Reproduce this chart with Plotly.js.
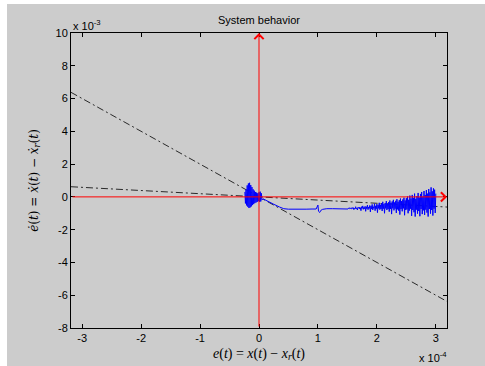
<!DOCTYPE html>
<html>
<head>
<meta charset="utf-8">
<script src="https://cdn.plot.ly/plotly-3.0.1.min.js"></script>
<style>html,body{margin:0;padding:0;background:#fff;}#chart{width:485px;height:366px;}</style>
</head>
<body>
<div id="chart"></div>
<script>
// Units: x in 1e-4, y in 1e-3 (as shown on the axes)
const xTickVals = [-3, -2, -1, 0, 1, 2, 3];
const xTickText = ["-3", "-2", "-1", "0", "1", "2", "3"];
const yTickVals = [-8, -6, -4, -2, 0, 2, 4, 6, 8, 10];
const yTickText = ["-8", "-6", "-4", "-2", "0", "2", "4", "6", "8", "10"];

// dash-dot reference lines (end points at the plot edges)
const refX = [-3.19, 3.19];
const refSteepY = [6.38, -6.38];
const refFlatY = [0.62, -0.62];

// red coordinate axes with arrows
const redAxisX = [-3.19, 3.19];
const redAxisY = [-8, 10];

// trajectory: chattering cluster near origin
const clusterX = [-0.24,-0.23,-0.22,-0.21,-0.20,-0.19,-0.18,-0.17,-0.16,-0.15,-0.14,-0.13,-0.12,-0.11,-0.10,-0.09,-0.08,-0.07,-0.06,-0.05,-0.04,-0.03,-0.02,-0.01,0.00,0.01,0.02,0.03,0.04,0.05];
const clusterY = [0.30,-0.40,0.45,-0.52,0.70,-0.60,0.82,-0.68,0.86,-0.64,0.72,-0.58,0.60,-0.50,0.46,-0.44,0.38,-0.38,0.30,-0.34,0.26,-0.30,0.22,-0.26,0.28,-0.30,0.32,-0.28,0.22,-0.18];

// trajectory: smooth drift
const driftX = [0.07,0.15,0.25,0.35,0.42,0.50,0.60,0.70,0.80,0.90,0.97,1.00,1.01,1.03,1.05,1.08,1.15,1.25,1.35,1.45];
const driftY = [-0.12,-0.28,-0.45,-0.62,-0.72,-0.75,-0.76,-0.76,-0.75,-0.74,-0.74,-0.50,-0.88,-0.95,-0.82,-0.76,-0.72,-0.72,-0.73,-0.71];

// trajectory: growing chattering
const noisyX = [
1.50,1.51,1.52,1.53,1.54,1.55,1.56,1.57,1.58,1.59,
1.60,1.61,1.62,1.63,1.64,1.65,1.66,1.67,1.68,1.69,
1.70,1.71,1.72,1.73,1.74,1.75,1.76,1.77,1.78,1.79,
1.80,1.81,1.82,1.83,1.84,1.85,1.86,1.87,1.88,1.89,
1.90,1.91,1.92,1.93,1.94,1.95,1.96,1.97,1.98,1.99,
2.00,2.01,2.02,2.03,2.04,2.05,2.06,2.07,2.08,2.09,
2.10,2.11,2.12,2.13,2.14,2.15,2.16,2.17,2.18,2.19,
2.20,2.21,2.22,2.23,2.24,2.25,2.26,2.27,2.28,2.29,
2.30,2.31,2.32,2.33,2.34,2.35,2.36,2.37,2.38,2.39,
2.40,2.41,2.42,2.43,2.44,2.45,2.46,2.47,2.48,2.49,
2.50,2.51,2.52,2.53,2.54,2.55,2.56,2.57,2.58,2.59,
2.60,2.61,2.62,2.63,2.64,2.65,2.66,2.67,2.68,2.69,
2.70,2.71,2.72,2.73,2.74,2.75,2.76,2.77,2.78,2.79,
2.80,2.81,2.82,2.83,2.84,2.85,2.86,2.87,2.88,2.89,
2.90,2.91,2.92,2.93,2.94,2.95,2.96,2.97,2.98,2.99,
3.00];
const noisyY = [
-0.70,-0.74,-0.69,-0.72,-0.66,-0.74,-0.70,-0.73,-0.65,-0.71,
-0.66,-0.78,-0.70,-0.74,-0.60,-0.72,-0.68,-0.80,-0.64,-0.69,
-0.62,-0.74,-0.66,-0.84,-0.60,-0.70,-0.55,-0.76,-0.64,-0.72,
-0.58,-0.88,-0.60,-0.72,-0.50,-0.78,-0.62,-0.70,-0.52,-0.92,
-0.56,-0.74,-0.46,-0.80,-0.60,-0.70,-0.42,-0.84,-0.55,-0.72,
-0.44,-0.96,-0.50,-0.70,-0.36,-0.78,-0.48,-0.74,-0.40,-0.86,
-0.30,-0.72,-0.44,-1.00,-0.38,-0.70,-0.26,-0.80,-0.42,-0.74,
-0.32,-0.90,-0.22,-0.74,-0.36,-1.05,-0.28,-0.70,-0.18,-0.82,
-0.34,-0.72,-0.24,-0.98,-0.14,-0.76,-0.30,-0.84,-0.20,-1.08,
-0.10,-0.74,-0.26,-0.88,-0.16,-0.70,-0.05,-1.12,-0.22,-0.80,
-0.08,-0.76,0.02,-1.00,-0.18,-0.84,0.08,-0.72,-0.10,-1.16,
0.12,-0.80,-0.06,-0.94,0.20,-1.20,-0.12,-0.78,0.05,-1.02,
0.24,-0.86,-0.04,-1.18,0.18,-0.74,0.30,-1.05,0.02,-0.82,
0.36,-1.10,0.12,-0.78,0.42,-0.96,0.20,-1.20,0.48,-0.74,
0.28,-1.02,0.58,-0.80,0.34,-1.14,0.52,-0.72,0.44,-0.98,
0.20];

const trajX = clusterX.concat(driftX, noisyX);
const trajY = clusterY.concat(driftY, noisyY);

const dashDot = "7px,3px,2px,3px";
const traces = [
  {x: refX, y: refSteepY, mode: "lines", line: {color: "#000", width: 0.8, dash: dashDot}, hoverinfo: "skip"},
  {x: refX, y: refFlatY, mode: "lines", line: {color: "#000", width: 0.8, dash: dashDot}, hoverinfo: "skip"},
  {x: trajX, y: trajY, mode: "lines", line: {color: "#0000ff", width: 1}, hoverinfo: "skip"}
];

const W = 485, H = 366, L = 71, R = 38, T = 33, B = 38;
const pw = W - L - R, ph = H - T - B;
const tickFont = {family: "Liberation Sans, Arial, sans-serif", size: 11, color: "#000"};
const serif = {family: "Liberation Serif, Times New Roman, serif", size: 14, color: "#000"};
const serifY = {family: "DejaVu Serif, Liberation Serif, serif", size: 12, color: "#000"};

const axisCommon = {
  showgrid: false, zeroline: false, showline: true, linecolor: "#000", linewidth: 1,
  mirror: "ticks", ticks: "inside", ticklen: 4, tickcolor: "#000", tickwidth: 1,
  tickfont: tickFont, tickmode: "array"
};

const layout = {
  width: W, height: H,
  margin: {l: L, r: R, t: T, b: B, pad: 0},
  paper_bgcolor: "#ffffff",
  plot_bgcolor: "#ffffff",
  showlegend: false,
  title: {text: "System behavior", font: {family: "Liberation Sans, Arial, sans-serif", size: 11, color: "#000"},
          x: 0.5, xref: "paper", y: 1 - 20 / H, yanchor: "middle"},
  xaxis: Object.assign({}, axisCommon, {
    range: [-3.19, 3.19], tickvals: xTickVals, ticktext: xTickText,
    title: {text: "<i>e</i>(<i>t</i>) = <i>x</i>(<i>t</i>) \u2212 <i>x<sub>r</sub></i>(<i>t</i>)", font: serif, standoff: 4}
  }),
  yaxis: Object.assign({}, axisCommon, {
    range: [-8, 10], tickvals: yTickVals, ticktext: yTickText,
    title: {text: "<i>\u0117</i>(<i>t</i>) = <i>\u1e8b</i>(<i>t</i>) \u2212 <i>\u1e8b<sub>r</sub></i>(<i>t</i>)", font: serifY, standoff: 14}
  }),
  shapes: [
    {type: "rect", xref: "paper", yref: "paper", layer: "below",
     x0: (7 - L) / pw, x1: (W - L) / pw, y0: -(H - T - ph) / ph, y1: (T + ph - 4) / ph,
     fillcolor: "#cccccc", line: {width: 0}}
  ],
  annotations: [
    {x: 0, y: redAxisY[1], ax: 0, ay: redAxisY[0], xref: "x", yref: "y", axref: "x", ayref: "y",
     showarrow: true, text: "", arrowhead: 4, arrowsize: 1.8, arrowwidth: 1, arrowcolor: "#ff0000"},
    {x: redAxisX[1], y: 0, ax: redAxisX[0], ay: 0, xref: "x", yref: "y", axref: "x", ayref: "y",
     showarrow: true, text: "", arrowhead: 4, arrowsize: 1.8, arrowwidth: 1, arrowcolor: "#ff0000"},
    {x: 0, y: 1, xref: "paper", yref: "paper", xanchor: "left", yanchor: "bottom", yshift: -1,
     showarrow: false, text: "x 10<sup>-3</sup>", font: tickFont},
    {x: 1, y: 0, xref: "paper", yref: "paper", xanchor: "right", yanchor: "top", yshift: -20, xshift: 2,
     showarrow: false, text: "x 10<sup>-4</sup>", font: tickFont}
  ]
};

Plotly.newPlot("chart", traces, layout, {displayModeBar: false, staticPlot: true});
</script>
</body>
</html>
